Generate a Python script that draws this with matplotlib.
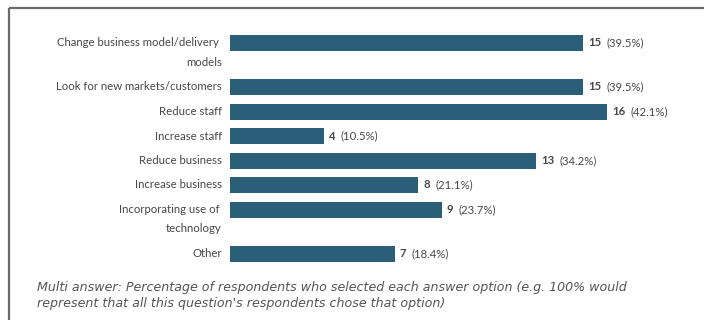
import matplotlib
matplotlib.use("Agg")
import matplotlib.pyplot as plt
from matplotlib.lines import Line2D

categories = [
    ["Change business model/delivery ", "models"],
    ["Look for new markets/customers"],
    ["Reduce staff"],
    ["Increase staff"],
    ["Reduce business"],
    ["Increase business"],
    ["Incorporating use of ", "technology"],
    ["Other"],
]
counts = [15, 15, 16, 4, 13, 8, 9, 7]
percents = ["39.5%", "39.5%", "42.1%", "10.5%", "34.2%", "21.1%", "23.7%", "18.4%"]
footnote = ("Multi answer: Percentage of respondents who selected each answer option (e.g. 100% would\n"
            "represent that all this question's respondents chose that option)")

W, H, DPI = 705, 320, 100
BAR_COLOR = "#2b5f79"
TEXT_COLOR = "#484848"

fig = plt.figure(figsize=(W / DPI, H / DPI), dpi=DPI)
fig.patch.set_facecolor("white")

# axes area in pixels: bars start at x=230, rows laid out in pixel units
ax_left, ax_right = 230, 690
ax_top, ax_bottom = 20, 275
ax = fig.add_axes([ax_left / W, 1 - ax_bottom / H,
                   (ax_right - ax_left) / W, (ax_bottom - ax_top) / H])
ax.set_xlim(0, (ax_right - ax_left) / 23.55)
ax.set_ylim(ax_bottom - ax_top, 0)
ax.axis("off")

# row centres: single-line rows are 24.5 px apart, each extra label line adds 19.5 px
row_step, line_step = 24.5, 19.5
centres = []
y = 23.0
for lines in categories:
    centres.append(y)
    y += row_step + line_step * (len(lines) - 1)

ax.barh(centres, counts, height=16, color=BAR_COLOR, left=0)

label_font = dict(family="Lato", size=8.2, color=TEXT_COLOR)
lbl_x = -8 / 23.55
for yc, lines, n, pct in zip(centres, categories, counts, percents):
    for i, line in enumerate(lines):
        ax.text(lbl_x, yc + 19 * i, line, ha="right", va="center",
                clip_on=False, **label_font)
    num = ax.annotate(str(n), xy=(n, yc), xytext=(5, 0), textcoords="offset pixels",
                      ha="left", va="center", fontweight="bold", **label_font)
    ax.annotate(f"({pct})", xy=(1, 0.5), xycoords=num, xytext=(5, 0),
                textcoords="offset pixels", ha="left", va="center", **label_font)

fig.text(37 / W, 1 - 281.5 / H, footnote, ha="left", va="top",
         family="DejaVu Sans", style="italic", size=9.1, color="#555555",
         linespacing=1.22)

# panel frame (top and left edges)
frame = dict(color="#6a6a6a", linewidth=1.6, transform=fig.transFigure,
             solid_capstyle="butt")
fig.add_artist(Line2D([8.5 / W, 704 / W], [1 - 7.5 / H, 1 - 7.5 / H], **frame))
fig.add_artist(Line2D([8.5 / W, 8.5 / W], [1 - 7.5 / H, 0.0], **frame))

fig.savefig("out.png", dpi=DPI, facecolor="white")
